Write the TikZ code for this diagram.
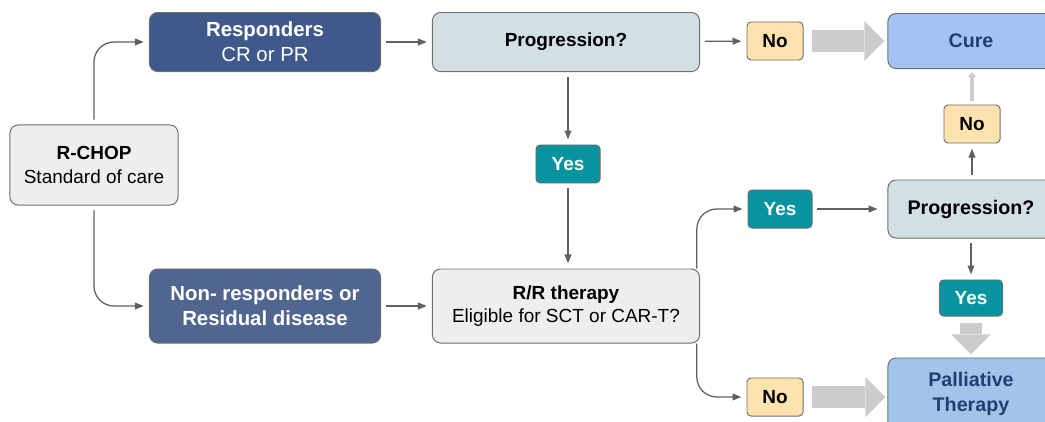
\documentclass[tikz,border=0pt]{standalone}
\usepackage{fontspec}
\setmainfont{Liberation Sans}
\usetikzlibrary{arrows.meta,
  calc,
  positioning
}
\definecolor{respblue}{HTML}{3F5A8A}
\definecolor{nonrespblue}{HTML}{51668F}
\definecolor{proggrey}{HTML}{D2DFE3}
\definecolor{startgrey}{HTML}{EEEEEE}
\definecolor{noorange}{HTML}{FFE3AE}
\definecolor{yesteal}{HTML}{07949F}
\definecolor{cureblue}{HTML}{A4C2F4}
\definecolor{pallblue}{HTML}{A2C4E9}
\definecolor{darkblue}{HTML}{213F73}
\definecolor{edgegrey}{HTML}{6E6E6E}
\definecolor{linegrey}{HTML}{606060}
\definecolor{fatgrey}{HTML}{CCCCCC}

\begin{document}
\begin{tikzpicture}[x=0.025cm,y=-0.025cm,
  box/.style={draw=edgegrey,line width=0.7pt,rounded corners=0.2cm,align=center,
    inner sep=0pt,font=\fontsize{13.5}{16.5}\selectfont},
  bluebox/.style={box,text=white,font=\fontsize{14.5}{17.5}\selectfont\bfseries},
  tag/.style={box,rounded corners=0.1cm,minimum height=0.95cm,
    font=\fontsize{13.5}{16}\selectfont\bfseries},
  yestag/.style={tag,fill=yesteal,text=white,minimum width=1.6cm},
  notag/.style={tag,fill=noorange,minimum width=1.4cm},
  conn/.style={draw=linegrey,line width=0.9pt,
    -{Triangle[length=0.22cm,width=0.17cm]},shorten <=0.12cm,shorten >=0.13cm},
  fatarrow/.style={draw=fatgrey,line width=0.55cm,
    -{Triangle[length=0.5cm,width=1.0cm,line width=0pt]}}
]
  \useasboundingbox (0,0) rectangle (1045,421);
  \clip (0,0) rectangle (1045,421);

  % first line of treatment
  \node[box,fill=startgrey,minimum width=4.2cm,minimum height=2cm]
    (rchop) at (94,165) {{\bfseries R-CHOP}\\Standard of care};
  \node[bluebox,fill=respblue,minimum width=5.775cm,minimum height=1.475cm]
    (resp) at (265,42) {Responders\\{\mdseries CR or PR}};
  \node[bluebox,fill=nonrespblue,minimum width=5.775cm,minimum height=1.85cm]
    (nonresp) at (265,306) {Non- responders or\\Residual disease};

  % middle column
  \node[box,fill=proggrey,minimum width=6.675cm,minimum height=1.475cm,
    font=\fontsize{13.5}{16.5}\selectfont\bfseries]
    (progA) at (566,42) {Progression?};
  \node[yestag] (yesA) at (568,164) {Yes};
  \node[box,fill=startgrey,minimum width=6.675cm,minimum height=1.85cm]
    (rrtherapy) at (566,306) {{\bfseries R/R therapy}\\Eligible for SCT or CAR-T?};

  \node[notag] (noA) at (775,41) {No};
  \node[yestag] (yesB) at (780,209) {Yes};
  \node[notag] (noB) at (775,397) {No};

  % right column
  \node[box,fill=cureblue,text=darkblue,minimum width=4.15cm,minimum height=1.375cm,
    font=\fontsize{14}{16.5}\selectfont\bfseries]
    (cure) at (971,41) {Cure};
  \node[notag] (noC) at (972,124) {No};
  \node[box,fill=proggrey,minimum width=4.15cm,minimum height=1.45cm,
    font=\fontsize{14}{16.5}\selectfont\bfseries]
    (progB) at (971,209) {Progression?};
  \node[yestag,minimum width=1.575cm,minimum height=0.9cm] (yesC) at (971,298) {Yes};
  \node[box,fill=pallblue,text=darkblue,minimum width=4.15cm,minimum height=1.8cm,
    font=\fontsize{14}{17.5}\selectfont\bfseries]
    (palliative) at (971,394) {Palliative\\Therapy};

  % connectors
  \draw[conn,rounded corners=0.5cm] (rchop.north) |- (resp.west);
  \draw[conn,rounded corners=0.5cm] (rchop.south) |- (nonresp.west);
  \draw[conn] (resp) -- (progA);
  \draw[conn] (nonresp) -- (rrtherapy);
  \draw[conn] (progA) -- (noA);
  \draw[conn] (progA.south -| yesA) -- (yesA);
  \draw[conn] (yesA) -- (rrtherapy.north -| yesA);
  \draw[conn,rounded corners=0.5cm,shorten <=0pt]
    ([xshift=-0.08cm]rrtherapy.north east) |- (yesB.west);
  \draw[conn,rounded corners=0.5cm,shorten <=0pt]
    ([xshift=-0.08cm]rrtherapy.south east) |- (noB.west);
  \draw[conn,shorten >=0.25cm] (yesB) -- (yesB -| progB.west);
  \draw[conn] (progB.north -| noC) -- (noC);
  \draw[conn] (progB.south -| yesC) -- (yesC);
  \draw[draw=fatgrey,line width=0.1cm,-{Triangle[length=0.12cm,width=0.2cm]},
    shorten <=0.08cm,shorten >=0.08cm] (noC) -- (noC |- cure.south);

  % fat arrows
  \draw[fatarrow,shorten <=0.22cm,shorten >=0.08cm] (noA) -- (noA -| cure.west);
  \draw[fatarrow,shorten <=0.22cm,shorten >=0.05cm] (noB) -- (noB -| palliative.west);
  \draw[fatarrow,shorten <=0.15cm,shorten >=0.08cm] (yesC) -- (yesC |- palliative.north);
\end{tikzpicture}
\end{document}
